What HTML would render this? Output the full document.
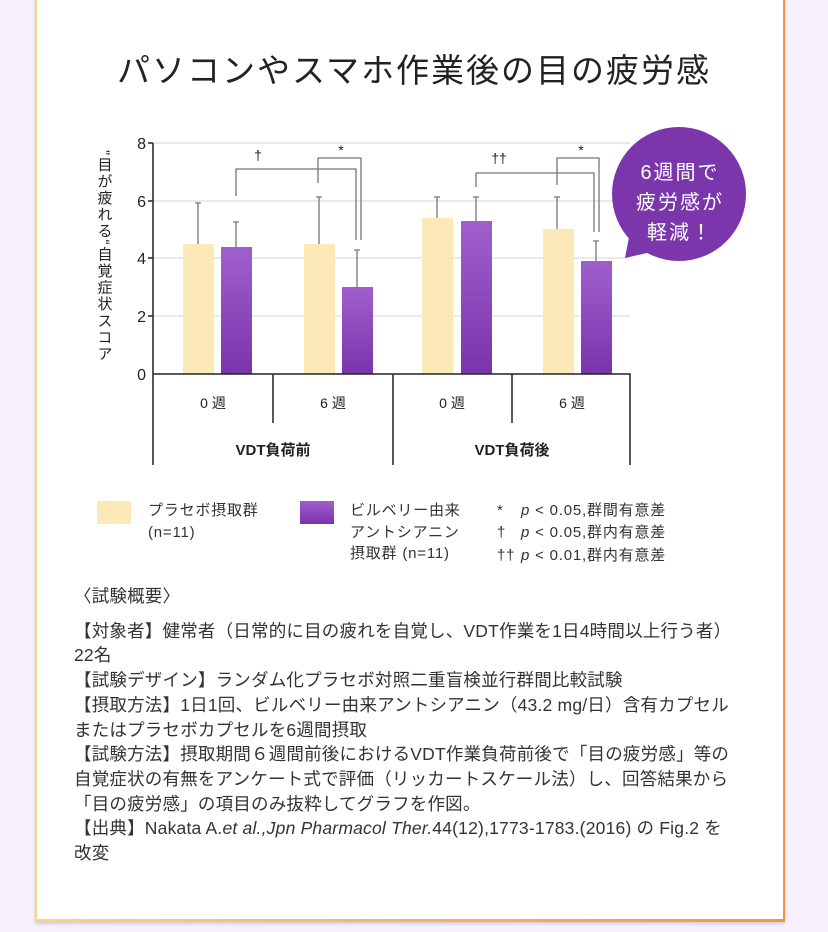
<!DOCTYPE html>
<html><head><meta charset="utf-8"><style>
body{margin:0;width:828px;height:932px;background:#f6f1fc;font-family:"Liberation Sans","Noto Sans CJK JP",sans-serif;position:relative;overflow:hidden}
.card{position:absolute;left:35px;top:-4px;width:750px;height:926px;background:#fff;border-left:2px solid #fcd27a;border-right:2px solid #ef9848;box-sizing:border-box;box-shadow:0 2px 3px rgba(0,0,0,.15)}
.card:after{content:"";position:absolute;left:-2px;right:-2px;bottom:0;height:3px;background:linear-gradient(90deg,#fcd27a,#ef9848)}
.t{position:absolute;left:0;width:828px;top:44px;text-align:center;font-size:33px;color:#222;letter-spacing:2px}
.txt{position:absolute;left:74px;top:584px;font-size:17.5px;line-height:24.7px;color:#333;width:740px;letter-spacing:0.2px;white-space:nowrap}
</style></head><body>
<div class="card"></div>
<div class="t">パソコンやスマホ作業後の目の疲労感</div>
<svg width="828" height="932" style="position:absolute;left:0;top:0" font-family="Liberation Sans,Noto Sans CJK JP,sans-serif">
<defs><linearGradient id="p" x1="0" y1="0" x2="0" y2="1"><stop offset="0" stop-color="#a05fcd"/><stop offset="1" stop-color="#7a34ab"/></linearGradient></defs>
<g stroke="#e4e4e4" stroke-width="1.5"><line x1="153" x2="630" y1="143" y2="143"/><line x1="153" x2="630" y1="201" y2="201"/><line x1="153" x2="630" y1="258" y2="258"/><line x1="153" x2="630" y1="316" y2="316"/></g>
<g fill="#fde9b7"><rect x="183" y="244" width="31" height="130"/><rect x="304" y="244" width="31" height="130"/><rect x="422" y="218" width="31" height="156"/><rect x="543" y="229" width="31" height="145"/></g>
<g fill="url(#p)"><rect x="221" y="247" width="31" height="127"/><rect x="342" y="287" width="31" height="87"/><rect x="461" y="221" width="31" height="153"/><rect x="581" y="261" width="31" height="113"/></g>
<g stroke="#777" stroke-width="1.3" fill="none">
<path d="M198 244V203M195 203h6M236 247V222M233 222h6M319 244V197M316 197h6M357 287V250M354 250h6M437 218V197M434 197h6M476 221V197M473 197h6M557 229V197M554 197h6M596 261V241M593 241h6"/>
<path d="M236 196V169H356V240M318 183V158H361V240M476 187V173H594V232M557 185V158H599V232"/>
</g>
<g stroke="#222" stroke-width="1.5" fill="none"><path d="M153 143V465M148 143h5M148 201h5M148 258h5M148 316h5M153 374H630V465M273 374V423M393 374V465M512 374V423"/></g>
<g font-size="16" fill="#222" text-anchor="end"><text x="146" y="149">8</text><text x="146" y="207">6</text><text x="146" y="264">4</text><text x="146" y="322">2</text><text x="146" y="380">0</text></g>
<g font-size="14" fill="#222" text-anchor="middle"><text x="258" y="160">†</text><text x="341" y="155">*</text><text x="499" y="163">††</text><text x="581" y="155">*</text>
<text x="213" y="408">0 週</text><text x="333" y="408">6 週</text><text x="452" y="408">0 週</text><text x="572" y="408">6 週</text>
<text x="273" y="455" font-weight="bold" font-size="15">VDT負荷前</text><text x="512" y="455" font-weight="bold" font-size="15">VDT負荷後</text></g>
<text font-size="15" fill="#222" writing-mode="tb" x="104" y="150" letter-spacing="1.6">”目が疲れる“自覚症状スコア</text>
<circle cx="679" cy="194" r="67" fill="#7b36ab"/><path d="M625 258L632 222 660 250Z" fill="#7b36ab"/>
<g fill="#fff" font-size="20" text-anchor="middle" letter-spacing="2"><text x="680" y="179">6週間で</text><text x="680" y="209">疲労感が</text><text x="680" y="239">軽減！</text></g>
<rect x="97" y="501" width="34" height="23" fill="#fde9b7"/><rect x="300" y="501" width="34" height="23" fill="url(#p)"/>
<g font-size="15" fill="#333" letter-spacing="0.8"><text x="148" y="515">プラセボ摂取群</text><text x="148" y="537">(n=11)</text>
<text x="350" y="515">ビルベリー由来</text><text x="350" y="537">アントシアニン</text><text x="350" y="558">摂取群 (n=11)</text>
<text x="497" y="515">*</text><text x="521" y="515"><tspan font-style="italic">p</tspan> &lt; 0.05,群間有意差</text>
<text x="497" y="537">†</text><text x="521" y="537"><tspan font-style="italic">p</tspan> &lt; 0.05,群内有意差</text>
<text x="497" y="560">††</text><text x="521" y="560"><tspan font-style="italic">p</tspan> &lt; 0.01,群内有意差</text></g>
</svg>
<div class="txt">〈試験概要〉<br><div style="height:10px"></div>【対象者】健常者（日常的に目の疲れを自覚し、VDT作業を1日4時間以上行う者）<br>22名<br>【試験デザイン】ランダム化プラセボ対照二重盲検並行群間比較試験<br>【摂取方法】1日1回、ビルベリー由来アントシアニン（43.2 mg/日）含有カプセル<br>またはプラセボカプセルを6週間摂取<br>【試験方法】摂取期間６週間前後におけるVDT作業負荷前後で「目の疲労感」等の<br>自覚症状の有無をアンケート式で評価（リッカートスケール法）し、回答結果から<br>「目の疲労感」の項目のみ抜粋してグラフを作図。<br>【出典】Nakata A.<i>et al.,Jpn Pharmacol Ther.</i>44(12),1773-1783.(2016) の Fig.2 を<br>改変</div>
</body></html>
